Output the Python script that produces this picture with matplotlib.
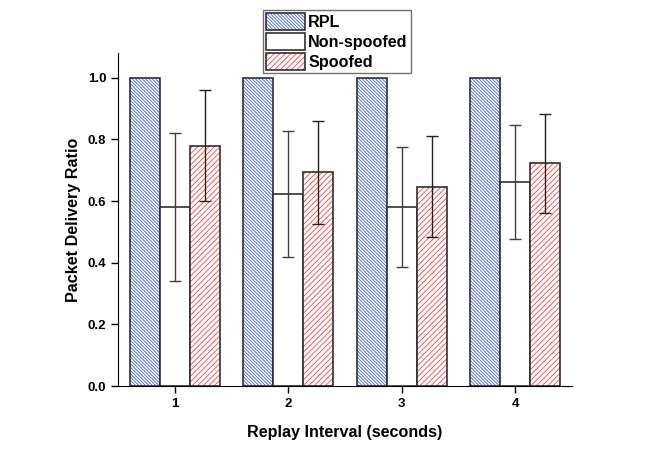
import matplotlib.pyplot as plt
import matplotlib.patches as patches
from matplotlib.legend_handler import HandlerTuple
import numpy as np

plt.rcParams['font.family'] = ['Liberation Sans', 'DejaVu Sans']
plt.rcParams['font.weight'] = 'bold'
plt.rcParams['hatch.linewidth'] = 0.6

intervals = [1, 2, 3, 4]
rpl = [1.0, 1.0, 1.0, 1.0]
non_spoofed = [0.580, 0.623, 0.581, 0.662]
non_spoofed_err = [0.240, 0.203, 0.195, 0.186]
spoofed = [0.780, 0.693, 0.646, 0.722]
spoofed_err = [0.180, 0.168, 0.164, 0.160]

blue = '#4060f0'
red = '#ff4040'
edge = '#303030'
blue_hatch = '\\' * 10
red_hatch = '/' * 6

fig = plt.figure(figsize=(6.64, 4.63), dpi=100)
ax = fig.add_axes([0.1777, 0.1663, 0.6837, 0.7192])

x = np.array(intervals)
w = 0.265

# hatched fill, then outline on top (hatch colour differs from edge colour)
ax.bar(x - w, rpl, w, color='white', edgecolor=blue, hatch=blue_hatch, linewidth=0)
ax.bar(x - w, rpl, w, color='none', edgecolor=edge, linewidth=1.2)
ax.bar(x, non_spoofed, w, color='white', edgecolor=edge, linewidth=1.2)
ax.bar(x + w, spoofed, w, color='white', edgecolor=red, hatch=red_hatch, linewidth=0)
ax.bar(x + w, spoofed, w, color='none', edgecolor=edge, linewidth=1.2)

ax.errorbar(x, non_spoofed, yerr=non_spoofed_err, fmt='none', ecolor='#404040',
            elinewidth=1, capsize=4, capthick=1)
ax.errorbar(x + w, spoofed, yerr=spoofed_err, fmt='none', ecolor='#202020',
            elinewidth=1, capsize=4, capthick=1)

ax.set_xlim(0.5, 4.5)
ax.set_ylim(0, 1.08)
ax.set_xticks(intervals)
ax.set_yticks([0.0, 0.2, 0.4, 0.6, 0.8, 1.0])
ax.set_yticklabels(['0.0', '0.2', '0.4', '0.6', '0.8', '1.0'])
ax.tick_params(labelsize=9.5, length=5, width=1)
ax.spines['top'].set_visible(False)
ax.spines['right'].set_visible(False)

ax.set_xlabel('Replay Interval (seconds)', fontsize=11.6, fontweight='bold', labelpad=11)
ax.set_ylabel('Packet Delivery Ratio', fontsize=11.6, fontweight='bold', labelpad=5)

h_rpl = (patches.Patch(facecolor='white', edgecolor=blue, hatch=blue_hatch, linewidth=0),
         patches.Patch(facecolor='none', edgecolor=edge, linewidth=1.2))
h_non = patches.Patch(facecolor='white', edgecolor=edge, linewidth=1.2)
h_sp = (patches.Patch(facecolor='white', edgecolor=red, hatch=red_hatch, linewidth=0),
        patches.Patch(facecolor='none', edgecolor=edge, linewidth=1.2))
leg = fig.legend([h_rpl, h_non, h_sp], ['RPL', 'Non-spoofed', 'Spoofed'],
                 handler_map={tuple: HandlerTuple(ndivide=1)},
                 loc='upper left', bbox_to_anchor=(0.396, 0.978),
                 fontsize=11.6, fancybox=False, framealpha=1, edgecolor='#707070',
                 borderpad=0.2, labelspacing=0.2, handlelength=2.4,
                 handleheight=1.2, handletextpad=0.2, borderaxespad=0)
leg.get_frame().set_linewidth(1)

fig.savefig('out.png', dpi=100)
